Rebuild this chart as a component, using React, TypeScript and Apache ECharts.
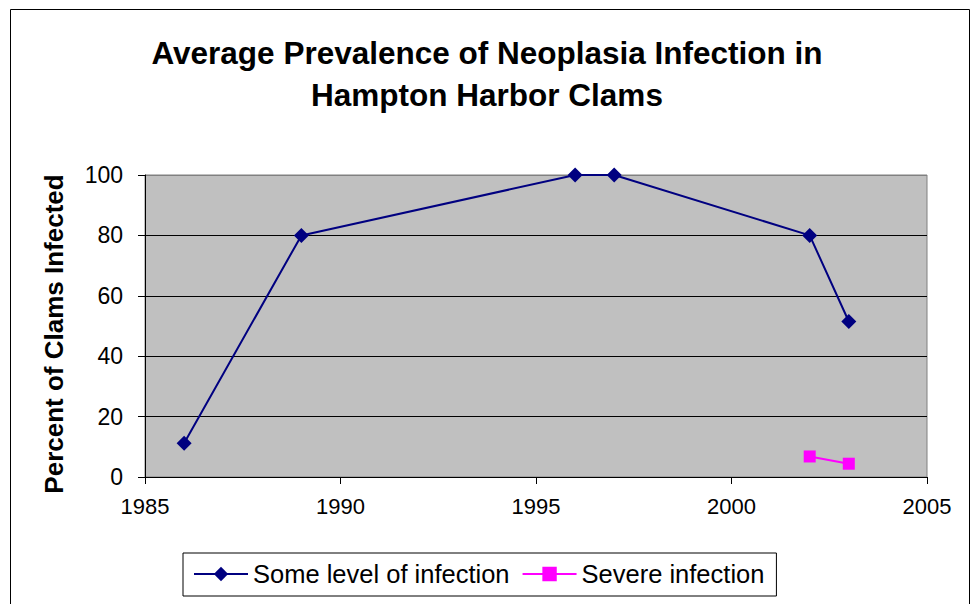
import React, { useEffect, useRef } from "react";
import * as echarts from "echarts";

const titleText = "Average Prevalence of Neoplasia Infection in\nHampton Harbor Clams";
const yAxisName = "Percent of Clams Infected";
const seriesNames = ["Some level of infection", "Severe infection"];
const someYears = [1986, 1989, 1996, 1997, 2002, 2003];
const someValues = [11.2, 80, 100, 100, 80, 51.5];
const severeYears = [2002, 2003];
const severeValues = [6.8, 4.4];

const FONT = "'Liberation Sans', Arial, sans-serif";

export default function App() {
  const ref = useRef<HTMLDivElement>(null);
  useEffect(() => {
    document.body.style.margin = "0";
    const chart = echarts.init(ref.current!, undefined, { renderer: "svg" });
    chart.setOption({
      animation: false,
      backgroundColor: "#ffffff",
      textStyle: { fontFamily: FONT },
      title: {
        text: titleText,
        left: "center",
        top: 27,
        textStyle: { fontSize: 31.5, fontWeight: "bold", color: "#000", lineHeight: 42, fontFamily: FONT },
      },
      graphic: [
        {
          type: "rect",
          shape: { x: 10.5, y: 9.5, width: 959, height: 640 },
          style: { fill: "none", stroke: "#000", lineWidth: 1 },
          silent: true,
          z: -1,
        },
        {
          type: "text",
          x: 54,
          y: 334,
          rotation: Math.PI / 2,
          style: {
            text: yAxisName,
            fontSize: 26,
            fontWeight: "bold",
            fill: "#000",
            fontFamily: FONT,
            align: "center",
            verticalAlign: "middle",
          },
        },
      ],
      grid: {
        left: 145,
        right: 47,
        top: 175,
        bottom: 127,
        show: true,
        backgroundColor: "#c0c0c0",
        borderColor: "#808080",
        borderWidth: 1,
      },
      legend: {
        left: 183,
        top: 553,
        orient: "horizontal",
        padding: [8, 12, 9, 10],
        itemWidth: 54,
        itemHeight: 18,
        itemGap: 12,
        backgroundColor: "#ffffff",
        borderColor: "#000",
        borderWidth: 1,
        textStyle: { fontSize: 25.5, color: "#000", fontFamily: FONT },
        data: seriesNames,
      },
      xAxis: {
        type: "value",
        min: 1985,
        max: 2005,
        interval: 5,
        axisLine: { show: true, lineStyle: { color: "#000", width: 1 } },
        axisTick: { show: true, length: 7, lineStyle: { color: "#000" } },
        axisLabel: {
          fontSize: 22,
          color: "#000",
          margin: 18,
          fontFamily: FONT,
          formatter: (v: number) => String(v),
        },
        splitLine: { show: false },
      },
      yAxis: {
        type: "value",
        min: 0,
        max: 100,
        interval: 20,
        axisLine: { show: true, lineStyle: { color: "#000", width: 1 } },
        axisTick: { show: true, length: 7, lineStyle: { color: "#000" } },
        axisLabel: { fontSize: 23, color: "#000", margin: 22, fontFamily: FONT },
        splitLine: {
          show: true,
          lineStyle: { color: ["#000", "#000", "#000", "#000", "#000", "#808080"], width: 1 },
        },
      },
      series: [
        {
          name: seriesNames[0],
          type: "line",
          data: someYears.map((y, i) => [y, someValues[i]]),
          symbol: "diamond",
          symbolSize: 15,
          color: "#000080",
          lineStyle: { color: "#000080", width: 2 },
          itemStyle: { color: "#000080" },
        },
        {
          name: seriesNames[1],
          type: "line",
          data: severeYears.map((y, i) => [y, severeValues[i]]),
          symbol: "rect",
          symbolSize: 12,
          color: "#ff00ff",
          lineStyle: { color: "#ff00ff", width: 2 },
          itemStyle: { color: "#ff00ff" },
        },
      ],
    });
    return () => chart.dispose();
  }, []);
  return <div ref={ref} style={{ width: 974, height: 604 }} />;
}
